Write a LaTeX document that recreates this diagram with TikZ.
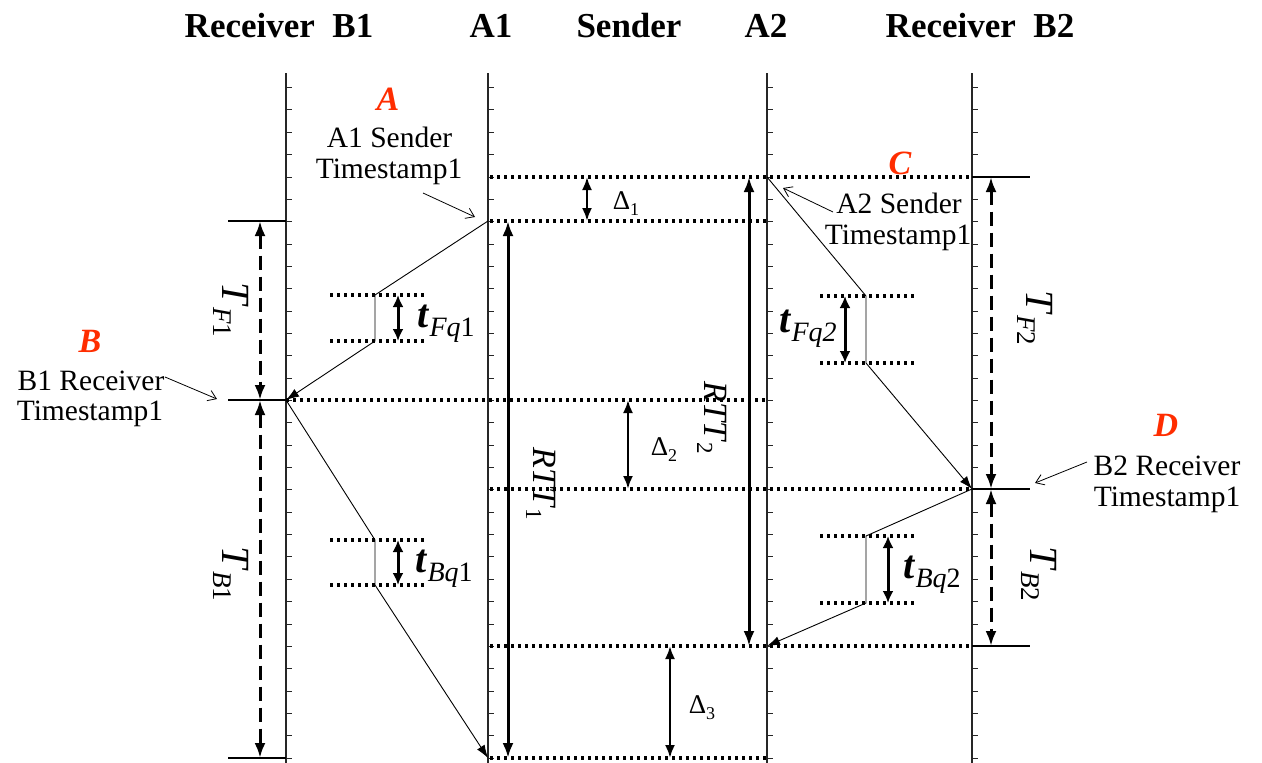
\documentclass[tikz,border=0pt]{standalone}
\usepackage{fontspec}
\setmainfont{Liberation Serif}
\usetikzlibrary{arrows.meta}
\definecolor{lblred}{RGB}{255,45,0}
\newcommand\withsub[4]{{\fontsize{#1pt}{#1pt}\selectfont #3\raisebox{-0.22em}{\fontsize{#2pt}{#2pt}\selectfont #4}}}
\begin{document}
\begin{tikzpicture}[x=1pt,y=-1pt,
  timeline/.style={line width=1.2pt,black!85},
  tickmark/.style={line width=1pt,black!85},
  dotline/.style={line width=3.2pt,dash pattern=on 2.8pt off 4.2pt},
  levelmark/.style={line width=1.1pt},
  msg/.style={line width=0.9pt,-{Latex[length=13pt,width=9pt]}},
  bigarr/.style={line width=3pt,{Latex[length=15pt,width=11pt]}-{Latex[length=15pt,width=11pt]}},
  dasharr/.style={bigarr,dash pattern=on 14pt off 7pt},
  deltaarr/.style={line width=2.4pt,{Latex[length=13pt,width=10pt]}-{Latex[length=13pt,width=10pt]}},
  qarr/.style={line width=3pt,{Latex[length=12pt,width=11pt]}-{Latex[length=12pt,width=11pt]}},
  notearr/.style={line width=0.8pt,-{Straight Barb[length=8pt,width=11pt]}},
  header/.style={font=\fontsize{35pt}{35pt}\selectfont\bfseries,anchor=base,inner sep=0pt},
  note/.style={font=\fontsize{29.5pt}{29.5pt}\selectfont,anchor=base,inner sep=0pt},
  redlbl/.style={font=\fontsize{34pt}{34pt}\selectfont\bfseries\itshape,text=lblred,inner sep=0pt},
  lbl/.style={inner sep=0pt}
]
\useasboundingbox (0,0) rectangle (1262,763);

% headers
\node[header] (hB1) at (279,37) {Receiver\ \ B1};
\node[header] (hA1) at (491,37) {A1};
\node[header] (hS) at (629,37) {Sender};
\node[header] (hA2) at (766,37) {A2};
\node[header] (hB2) at (980,37) {Receiver\ \ B2};

% timelines with ticks
\foreach \n/\x in {b1/286,a1/488,a2/767,b2/972}{
  \coordinate (\n top) at (\x,73);
  \coordinate (\n bot) at (\x,763);
  \draw[timeline] (\n top) -- (\n bot);
  \foreach \k in {0,...,30}{
    \draw[tickmark] (\x,87.6+22.35*\k) -- ++(6,0);
  }
}

% key events
\coordinate (A1s) at (488,221);
\coordinate (A2s) at (767,177);
\coordinate (B1r) at (286,400);
\coordinate (B2r) at (972,489);
\coordinate (A2r) at (767,646);
\coordinate (A1r) at (488,758);

% level dotted lines
\draw[dotline] (490,177) -- (B2r |- A2s);
\draw[dotline] (490,221) -- (767,221);
\draw[dotline] (B1r) -- (767,400);
\draw[dotline] (490,489) -- (B2r);
\draw[dotline] (490,646) -- (972,646);
\draw[dotline] (490,758) -- (767,758);

% solid level marks
\draw[levelmark] (228,221) -- (286,221);
\draw[levelmark] (228,400) -- (B1r);
\draw[levelmark] (228,758) -- (286,758);
\draw[levelmark] (972,177) -- (1030,177);
\draw[levelmark] (B2r) -- (1030,489);
\draw[levelmark] (972,646) -- (1030,646);

% queue points
\coordinate (q1a) at (375,295); \coordinate (q1b) at (375,341);
\coordinate (q2a) at (375,540); \coordinate (q2b) at (375,585);
\coordinate (q3a) at (866,296); \coordinate (q3b) at (866,363);
\coordinate (q4a) at (866,536); \coordinate (q4b) at (866,603);

% queue dotted lines
\draw[dotline] (330,295) -- (424,295);
\draw[dotline] (330,341) -- (424,341);
\draw[dotline] (330,540) -- (424,540);
\draw[dotline] (330,585) -- (424,585);
\draw[dotline] (820,296) -- (914,296);
\draw[dotline] (820,363) -- (914,363);
\draw[dotline] (820,536) -- (914,536);
\draw[dotline] (820,603) -- (914,603);

% messages
\draw[msg] (A1s) -- (q1a) -- (q1b) -- (B1r);
\draw[msg] (B1r) -- (q2a) -- (q2b) -- (A1r);
\draw[msg] (A2s) -- (q3a) -- (q3b) -- (B2r);
\draw[msg] (B2r) -- (q4a) -- (q4b) -- (A2r);

% queue arrows and labels
\draw[qarr] (398,295) -- (398,341);
\draw[qarr] (398,540) -- (398,585);
\draw[qarr] (845,296) -- (845,363);
\draw[qarr] (888,536) -- (888,603);
\node[lbl] (tfq1) at (446,324) {\withsub{40}{28}{\textbf{\textit{t}}}{\textit{Fq}1}};
\node[lbl] (tbq1) at (444,569) {\withsub{40}{28}{\textbf{\textit{t}}}{\textit{Bq}1}};
\node[lbl] (tfq2) at (808,329) {\withsub{40}{28}{\textbf{\textit{t}}}{\textit{Fq2}}};
\node[lbl] (tbq2) at (932,575) {\withsub{40}{28}{\textbf{\textit{t}}}{\textit{Bq}2}};

% one-way delays (dashed)
\draw[dasharr] (260,221) -- (260,400);
\draw[dasharr] (260,400) -- (260,758);
\draw[dasharr] (991,177) -- (991,489);
\draw[dasharr] (991,489) -- (991,646);
\node[lbl,rotate=-90] (TF1) at (231,310) {\withsub{40}{27}{\textit{T}}{\textit{F}1}};
\node[lbl,rotate=-90] (TB1) at (231,574) {\withsub{40}{27}{\textit{T}}{\textit{B}1}};
\node[lbl,rotate=-90] (TF2) at (1035,318) {\withsub{40}{27}{\textit{T}}{\textit{F}2}};
\node[lbl,rotate=-90] (TB2) at (1039,574) {\withsub{40}{27}{\textit{T}}{\textit{B}2}};

% RTTs
\draw[bigarr] (508,221) -- (508,758);
\draw[bigarr] (749,177) -- (749,646);
\node[lbl,rotate=-90] (rtt1) at (541,484) {\withsub{34}{23}{\textit{RTT}}{1}};
\node[lbl,rotate=-90] (rtt2) at (712,418) {\withsub{34}{23}{\textit{RTT}}{2}};

% deltas
\draw[deltaarr] (587,177) -- (587,221);
\draw[deltaarr] (628,400) -- (628,489);
\draw[deltaarr] (670,646) -- (670,758);
\node[lbl] (d1) at (626,204) {\withsub{27}{18}{Δ}{1}};
\node[lbl] (d2) at (664,450) {\withsub{27}{18}{Δ}{2}};
\node[lbl] (d3) at (702,708) {\withsub{27}{18}{Δ}{3}};

% annotations
\node[redlbl] (lA) at (388,99) {A};
\node[note] (nA1) at (389.5,147) {A1 Sender};
\node[note] (nA2) at (389,178) {Timestamp1};
\coordinate (pA0) at (423,193); \coordinate (pA1) at (475,217);
\draw[notearr] (pA0) -- (pA1);

\node[redlbl] (lC) at (900,163) {C};
\node[note] (nC1) at (899,213) {A2 Sender};
\node[note] (nC2) at (898,244) {Timestamp1};
\coordinate (pC0) at (833,212); \coordinate (pC1) at (783,188);
\draw[notearr] (pC0) -- (pC1);

\node[redlbl] (lB) at (90,341) {B};
\node[note] (nB1) at (91,390) {B1 Receiver};
\node[note] (nB2) at (90,420) {Timestamp1};
\coordinate (pB0) at (165,377); \coordinate (pB1) at (217,399);
\draw[notearr] (pB0) -- (pB1);

\node[redlbl] (lD) at (1166,425) {D};
\node[note] (nD1) at (1167,475) {B2 Receiver};
\node[note] (nD2) at (1167,506) {Timestamp1};
\coordinate (pD0) at (1087,462); \coordinate (pD1) at (1035,483);
\draw[notearr] (pD0) -- (pD1);
\end{tikzpicture}
\end{document}
